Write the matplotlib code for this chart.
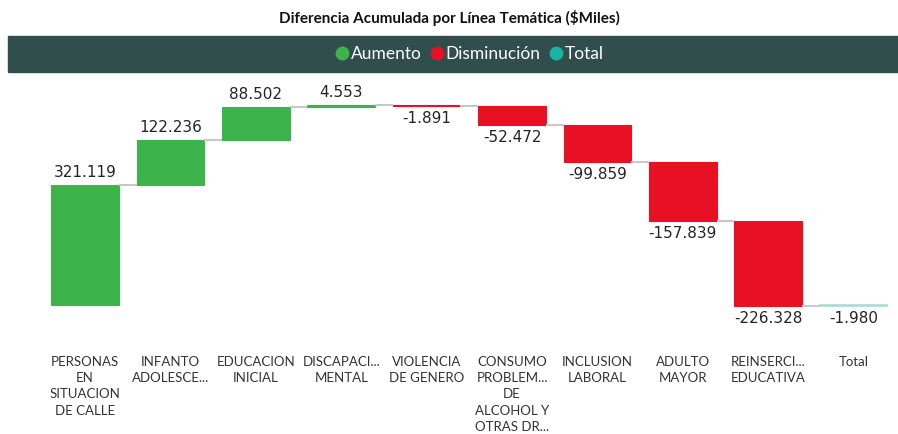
#! /usr/bin/env python3
# coding: utf-8

"""
    Cascada de la diferencia acumulada por línea temática
"""
import matplotlib.pyplot as plt
from matplotlib.lines import Line2D
from matplotlib.patches import Rectangle
import numpy as np

plt.rcParams['font.family'] = ['Lato', 'DejaVu Sans']

categorias = ['PERSONAS\nEN\nSITUACION\nDE CALLE', 'INFANTO\nADOLESCE...', 'EDUCACION\nINICIAL',
              'DISCAPACI...\nMENTAL', 'VIOLENCIA\nDE GENERO',
              'CONSUMO\nPROBLEM...\nDE\nALCOHOL Y\nOTRAS DR...', 'INCLUSION\nLABORAL',
              'ADULTO\nMAYOR', 'REINSERCI...\nEDUCATIVA']
etiqueta_total = 'Total'
valores = [321119, 122236, 88502, 4553, -1891, -52472, -99859, -157839, -226328]
total = -1980

VERDE = '#3CB44B'
ROJO = '#E81123'
TEAL = '#1AB3A3'
TEXTO = '#252423'


def fmt(v):
    return f"{v:,}".replace(',', '.')


fig = plt.figure(figsize=(8.98, 4.34), dpi=100)
ax = fig.add_axes([0, 0, 1, 1])
ax.set_axis_off()

# escala en pixeles: centro de categoria y nivel cero
paso = 85.4
ax.set_xlim(-85 / paso, (898 - 85) / paso)
px = 2680.0
ax.set_ylim((305 - 434) * px, 305 * px)

x = np.arange(len(valores) + 1)
ancho = 0.79
acum = np.concatenate([[0], np.cumsum(valores)])

for i, v in enumerate(valores):
    base = acum[i]
    color = VERDE if v >= 0 else ROJO
    ax.bar(x[i], v, ancho, bottom=base, color=color, edgecolor=color, linewidth=0.8)
    if v >= 0:
        ax.text(x[i], base + v + 5 * px, fmt(v), ha='center', va='bottom',
                fontsize=11, color=TEXTO, family='DejaVu Sans')
    else:
        ax.text(x[i], base + v - 5 * px, fmt(v), ha='center', va='top',
                fontsize=11, color=TEXTO, family='DejaVu Sans')
    # conector
    ax.plot([x[i] + ancho / 2, x[i + 1] - ancho / 2], [acum[i + 1]] * 2,
            color='#C8C8C8', lw=1.5, solid_capstyle='butt')

ax.bar(x[-1], total, ancho, bottom=0, color=TEAL, edgecolor='#A8DCD5', linewidth=1.2)
ax.text(x[-1], total - 5 * px, fmt(total), ha='center', va='top',
        fontsize=11, color=TEXTO, family='DejaVu Sans')

trans = ax.get_xaxis_transform()
for i, lab in enumerate(categorias + [etiqueta_total]):
    ax.text(x[i], 1 - 356 / 434, lab, transform=trans, ha='center', va='top',
            fontsize=9.5, color='#333333', linespacing=1.42)

# titulo y franja de leyenda
fig.text(0.5, 1 - 18 / 434, 'Diferencia Acumulada por Línea Temática ($Miles)',
         ha='center', va='center', fontsize=11, fontweight='bold', color='#111111')
fig.add_artist(Rectangle((8 / 898, 1 - 72 / 434), 1, 36 / 434,
                         transform=fig.transFigure, color='#2F4E4C', zorder=0))
handles = [Line2D([], [], marker='o', ls='', color=c, markersize=9)
           for c in (VERDE, ROJO, TEAL)]
fig.legend(handles, ['Aumento', 'Disminución', 'Total'], ncols=3,
           loc='center', bbox_to_anchor=(469 / 898, 1 - 54 / 434), frameon=False,
           labelcolor='white', fontsize=12.5, handletextpad=0.05, columnspacing=0.45,
           handlelength=0.9)

fig.savefig('out.png', dpi=100)
